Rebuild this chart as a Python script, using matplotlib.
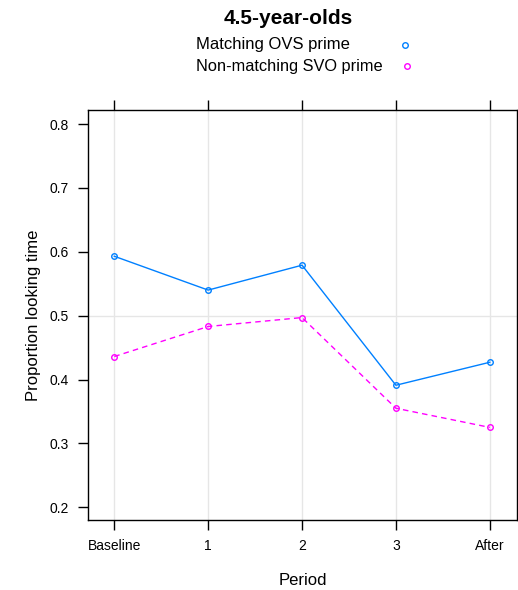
import numpy as np
import matplotlib
matplotlib.use("Agg")
from matplotlib import pyplot as plt

plt.rcParams['font.family'] = ['Liberation Sans', 'DejaVu Sans']

periods = ["Baseline", "1", "2", "3", "After"]
matching_ovs = [0.593, 0.540, 0.579, 0.391, 0.427]
nonmatching_svo = [0.436, 0.483, 0.497, 0.355, 0.325]
yticks = [0.2, 0.3, 0.4, 0.5, 0.6, 0.7, 0.8]

blue = "#0080ff"
pink = "#ff00ff"

fig = plt.figure(figsize=(5.18, 5.90), dpi=100)
ax = fig.add_axes([88/518, 70/590, 429/518, 410/590])

x = np.arange(len(periods))

# light grid: verticals at each period, horizontal at 0.5
for xi in x:
    ax.axvline(xi, color="#e6e6e6", lw=1, zorder=0)
ax.axhline(0.5, color="#e6e6e6", lw=1, zorder=0)

ax.plot(x, matching_ovs, color=blue, lw=1, marker="o", ms=4,
        mfc="none", mec=blue, mew=1)
ax.plot(x, nonmatching_svo, color=pink, lw=1, ls=(0, (4, 3)), marker="o", ms=4,
        mfc="none", mec=pink, mew=1)

ax.set_xlim(-0.28, 4.29)
ax.set_ylim(0.18, 0.822)
ax.set_xticks(x)
ax.set_xticklabels(periods)
ax.set_yticks(yticks)
ax.set_yticklabels([f"{v:.1f}" for v in yticks])
ax.tick_params(axis="both", direction="out", length=7, width=1, labelsize=10,
               top=True, right=True, labeltop=False, labelright=False, pad=7)
for s in ax.spines.values():
    s.set_linewidth(1)

ax.set_xlabel("Period", fontsize=12, labelpad=14)
ax.set_ylabel("Proportion looking time", fontsize=12, labelpad=6)

fig.text(0.556, 1 - 18/590, "4.5-year-olds", ha="center", va="center",
         fontsize=15, fontweight="bold")
fig.text(196/518, 1 - 45/590, "Matching OVS prime", ha="left", va="center", fontsize=12)
fig.text(196/518, 1 - 66/590, "Non-matching SVO prime", ha="left", va="center", fontsize=11.8)
fig.lines.append(plt.Line2D([405/518], [1 - 45/590], transform=fig.transFigure,
                            marker="o", ms=4, mfc="none", mec=blue, ls="none"))
fig.lines.append(plt.Line2D([407/518], [1 - 66/590], transform=fig.transFigure,
                            marker="o", ms=4, mfc="none", mec=pink, ls="none"))

fig.savefig("out.png", dpi=100)
